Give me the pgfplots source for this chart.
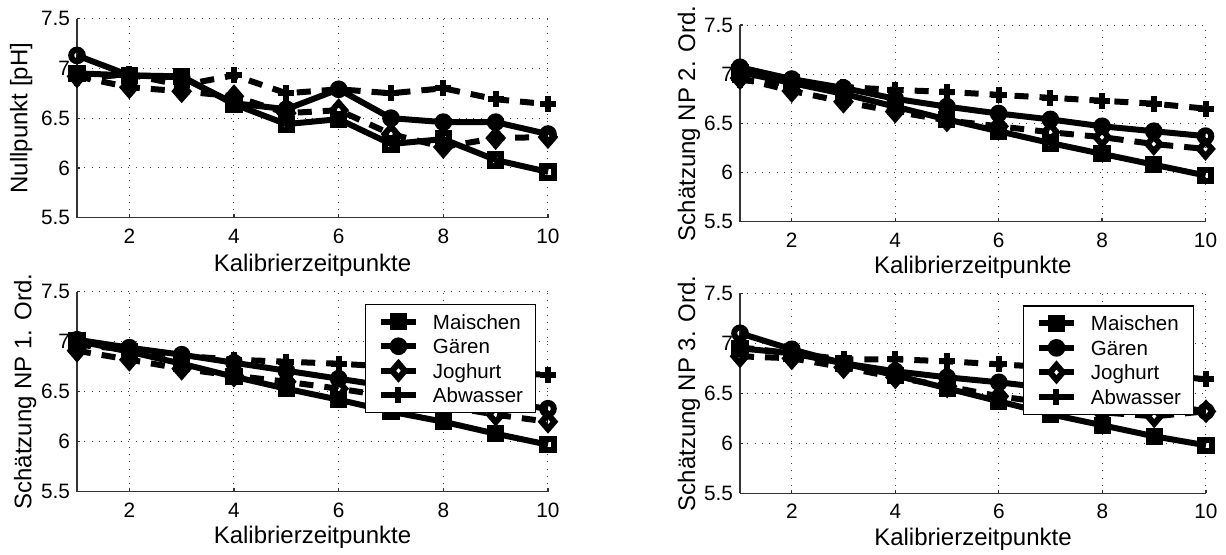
\documentclass[border=0pt]{standalone}
\usepackage{fontspec}
\setmainfont{Liberation Sans}
\usepackage{pgfplots}
\pgfplotsset{compat=1.18}
\pgfplotsset{
  base/.style={
    scale only axis, anchor=south west,
    axis lines*=left,
    xmin=1, xmax=10, ymin=5.5, ymax=7.5,
    xtick={2,4,6,8,10}, ytick={5.5,6,6.5,7,7.5},
    grid=major,
    grid style={dash pattern=on 0.5pt off 3.17pt, black!75, line width=0.5pt},
    tick align=inside, major tick length=1.7pt,
    every tick/.style={black!80, line width=0.6pt},
    axis line style={black!80, line width=0.65pt},
    tick label style={font=\fontsize{10.4}{12}\selectfont},
    label style={font=\fontsize{12}{14}\selectfont},
    /pgf/number format/assume math mode=true,
    xticklabel style={anchor=base, yshift=-12.8pt},
    ylabel style={anchor=base},
    xlabel style={anchor=base},
    xlabel={Kalibrierzeitpunkte},
    clip=false,
    legend image code/.code={\draw[mark repeat=2,mark phase=2] plot coordinates {(0pt,0pt)(8.75pt,0pt)(17.5pt,0pt)};},
  },
  leg/.style={
    legend cell align=left,
    legend style={at={(1,1)}, anchor=north east, xshift=-6pt, yshift=-6pt,
      draw=black, line width=0.6pt, fill=white,
      inner xsep=6.2pt, inner ysep=2.6pt,
      column sep=7pt,
      font=\fontsize{10.25}{12}\selectfont,
      nodes={inner xsep=0pt, inner ysep=0pt, text height=9.8pt, text depth=2.45pt}},
  },
  sM/.style={black, solid, line width=3pt, mark=square, mark size=2.8pt, mark options={solid}},
  sG/.style={black, solid, line width=3pt, mark=o, mark size=2.9pt, mark options={solid}},
  sJ/.style={black, line width=3pt, dash pattern=on 7pt off 5.5pt, mark=diamond, mark size=3.7pt, mark options={solid, xscale=1.15}},
  sA/.style={black, line width=3pt, dash pattern=on 7pt off 5.5pt, mark=+, mark size=4pt, mark options={solid}},
}
\begin{document}
\begin{tikzpicture}
\useasboundingbox (0,0) rectangle (613pt,277pt);

% Panel 1
\begin{axis}[base, at={(38.5pt,168.15pt)}, width=235.5pt, height=99.55pt,
  ylabel={Nullpunkt [pH]},
  ylabel style={at={([xshift=-24.85pt]axis description cs:0,0.5)}},
  xlabel style={at={([yshift=-27pt]axis description cs:0.5,0)}}]
\addplot[sM] coordinates {(1,6.95)(2,6.93)(3,6.92)(4,6.64)(5,6.44)(6,6.49)(7,6.24)(8,6.29)(9,6.08)(10,5.96)};
\addplot[sG] coordinates {(1,7.13)(2,6.93)(3,6.91)(4,6.65)(5,6.59)(6,6.79)(7,6.50)(8,6.46)(9,6.46)(10,6.34)};
\addplot[sJ] coordinates {(1,6.92)(2,6.81)(3,6.77)(4,6.72)(5,6.55)(6,6.58)(7,6.34)(8,6.21)(9,6.30)(10,6.31)};
\addplot[sA] coordinates {(1,6.90)(2,6.94)(3,6.83)(4,6.93)(5,6.75)(6,6.79)(7,6.75)(8,6.80)(9,6.69)(10,6.64)};
\end{axis}

% Panel 2
\begin{axis}[base, at={(370pt,166.15pt)}, width=232.75pt, height=98.35pt,
  ylabel={Schätzung NP 2. Ord.},
  ylabel style={at={([xshift=-22.5pt]axis description cs:0,0.5)}},
  xlabel style={at={([yshift=-25.85pt]axis description cs:0.5,0)}}]
\addplot[sM] coordinates {(1,7.02)(2,6.91)(3,6.80)(4,6.67)(5,6.54)(6,6.42)(7,6.30)(8,6.19)(9,6.08)(10,5.97)};
\addplot[sG] coordinates {(1,7.07)(2,6.95)(3,6.86)(4,6.75)(5,6.67)(6,6.60)(7,6.54)(8,6.47)(9,6.42)(10,6.37)};
\addplot[sJ] coordinates {(1,6.96)(2,6.83)(3,6.72)(4,6.62)(5,6.53)(6,6.47)(7,6.41)(8,6.36)(9,6.29)(10,6.24)};
\addplot[sA] coordinates {(1,6.94)(2,6.90)(3,6.87)(4,6.84)(5,6.82)(6,6.79)(7,6.76)(8,6.73)(9,6.70)(10,6.65)};
\end{axis}

% Panel 3
\begin{axis}[base, leg, at={(38.5pt,31.15pt)}, width=235.5pt, height=100pt,
  ylabel={Schätzung NP 1. Ord.},
  ylabel style={at={([xshift=-22.8pt]axis description cs:0,0.5)}},
  xlabel style={at={([yshift=-26pt]axis description cs:0.5,0)}}]
\addplot[sM] coordinates {(1,7.01)(2,6.90)(3,6.78)(4,6.65)(5,6.53)(6,6.42)(7,6.30)(8,6.20)(9,6.08)(10,5.97)};
\addplot[sG] coordinates {(1,7.02)(2,6.94)(3,6.87)(4,6.79)(5,6.71)(6,6.63)(7,6.55)(8,6.48)(9,6.40)(10,6.33)};
\addplot[sJ] coordinates {(1,6.91)(2,6.82)(3,6.73)(4,6.66)(5,6.60)(6,6.53)(7,6.45)(8,6.36)(9,6.27)(10,6.20)};
\addplot[sA] coordinates {(1,6.97)(2,6.92)(3,6.86)(4,6.82)(5,6.80)(6,6.78)(7,6.75)(8,6.72)(9,6.69)(10,6.67)};
\legend{Maischen,Gären,Joghurt,Abwasser}
\end{axis}

% Panel 4
\begin{axis}[base, leg, at={(370pt,30.35pt)}, width=233pt, height=100pt,
  ylabel={Schätzung NP 3. Ord.},
  ylabel style={at={([xshift=-22.5pt]axis description cs:0,0.5)}},
  xlabel style={at={([yshift=-26pt]axis description cs:0.5,0)}}]
\addplot[sM] coordinates {(1,6.95)(2,6.90)(3,6.80)(4,6.68)(5,6.55)(6,6.42)(7,6.29)(8,6.18)(9,6.07)(10,5.98)};
\addplot[sG] coordinates {(1,7.10)(2,6.94)(3,6.80)(4,6.72)(5,6.66)(6,6.61)(7,6.55)(8,6.48)(9,6.40)(10,6.32)};
\addplot[sJ] coordinates {(1,6.87)(2,6.85)(3,6.76)(4,6.66)(5,6.57)(6,6.47)(7,6.40)(8,6.31)(9,6.27)(10,6.32)};
\addplot[sA] coordinates {(1,6.96)(2,6.90)(3,6.84)(4,6.84)(5,6.82)(6,6.79)(7,6.76)(8,6.73)(9,6.69)(10,6.64)};
\legend{Maischen,Gären,Joghurt,Abwasser}
\end{axis}
\end{tikzpicture}
\end{document}
